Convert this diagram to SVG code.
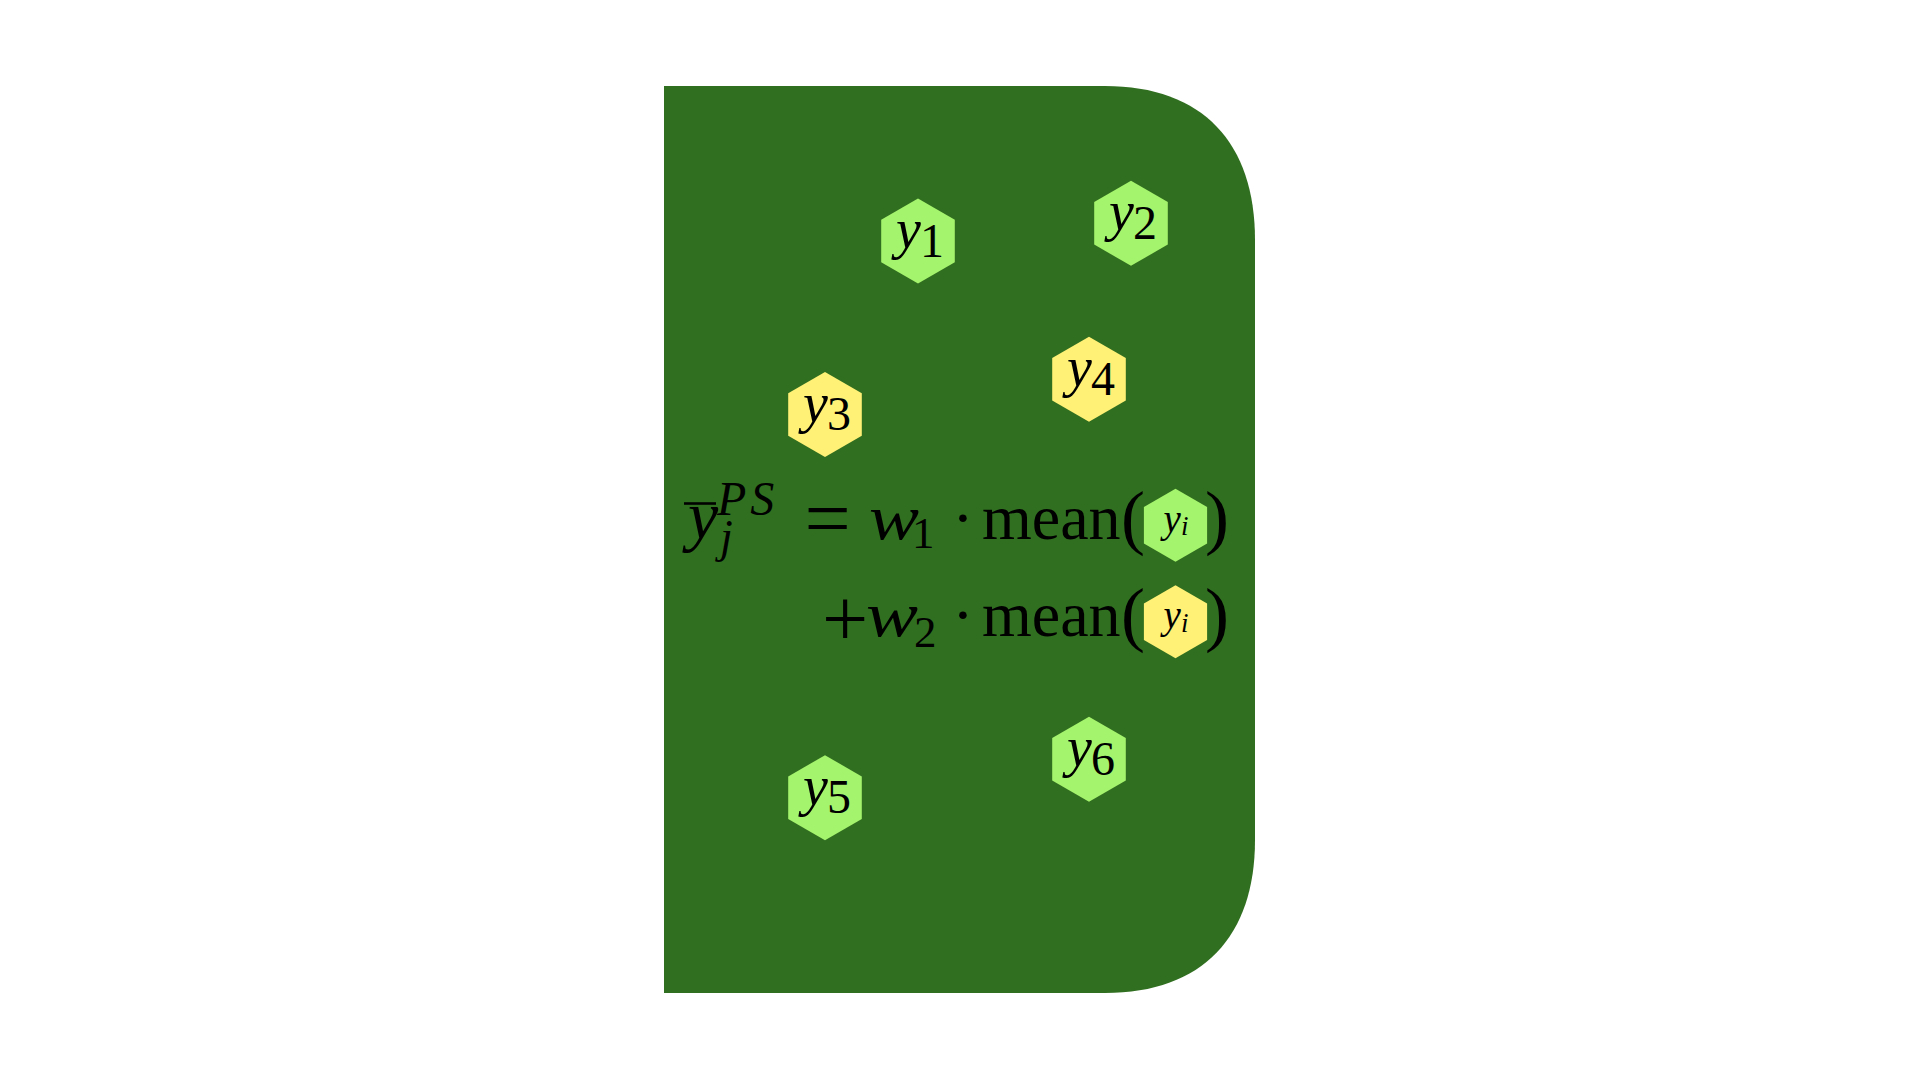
<svg xmlns="http://www.w3.org/2000/svg" xmlns:xlink="http://www.w3.org/1999/xlink" width="1920" height="1080" viewBox="0 0 1920 1080">
  <style>
    text { font-family: "Liberation Serif", "Times New Roman", serif; fill: #000000; }
    .mi { font-style: italic; }
    .green { fill: #A5F46D; }
    .yellow { fill: #FFF176; }
    .lbl { font-size: 56px; }
    .sub { font-size: 48px; font-style: normal; }
    .f64 { font-size: 64px; }
  </style>
  <defs>
    <polygon id="hex" points="0,-42.5 36.8,-21.25 36.8,21.25 0,42.5 -36.8,21.25 -36.8,-21.25"/>
    <polygon id="hexs" points="0,-36.5 31.6,-18.25 31.6,18.25 0,36.5 -31.6,18.25 -31.6,-18.25"/>
  </defs>
  <rect x="0" y="0" width="1920" height="1080" fill="#FFFFFF"/>

  <g id="stratum">
    <path d="M664,86 H1105 C1203,86 1255,143 1255,240 V840 C1255,936 1203,993 1105,993 H664 Z" fill="#316F20"/>
  </g>

  <g id="connectors"></g>

  <g id="node-y1">
    <use xlink:href="#hex" href="#hex" x="918" y="241" class="green"/>
    <text class="lbl" x="920" y="248" text-anchor="middle"><tspan class="mi">y</tspan><tspan class="sub" dx="-1" dy="8.5">1</tspan></text>
  </g>
  <g id="node-y2">
    <use xlink:href="#hex" href="#hex" x="1131" y="223.3" class="green"/>
    <text class="lbl" x="1133" y="230.3" text-anchor="middle"><tspan class="mi">y</tspan><tspan class="sub" dx="-1" dy="8.5">2</tspan></text>
  </g>
  <g id="node-y3">
    <use xlink:href="#hex" href="#hex" x="825" y="414.5" class="yellow"/>
    <text class="lbl" x="827" y="421.5" text-anchor="middle"><tspan class="mi">y</tspan><tspan class="sub" dx="-1" dy="8.5">3</tspan></text>
  </g>
  <g id="node-y4">
    <use xlink:href="#hex" href="#hex" x="1089" y="379.3" class="yellow"/>
    <text class="lbl" x="1091" y="386.3" text-anchor="middle"><tspan class="mi">y</tspan><tspan class="sub" dx="-1" dy="8.5">4</tspan></text>
  </g>
  <g id="node-y5">
    <use xlink:href="#hex" href="#hex" x="825" y="797.7" class="green"/>
    <text class="lbl" x="827" y="804.7" text-anchor="middle"><tspan class="mi">y</tspan><tspan class="sub" dx="-1" dy="8.5">5</tspan></text>
  </g>
  <g id="node-y6">
    <use xlink:href="#hex" href="#hex" x="1089" y="759.3" class="green"/>
    <text class="lbl" x="1091" y="766.3" text-anchor="middle"><tspan class="mi">y</tspan><tspan class="sub" dx="-1" dy="8.5">6</tspan></text>
  </g>

  <g id="formula">
    <!-- line 1 -->
    <line x1="684" y1="503.5" x2="716" y2="503.5" stroke="#000000" stroke-width="2.6"/>
    <text class="mi"><tspan font-size="68" x="688" y="539">y</tspan><tspan font-size="46" x="720" y="552">j</tspan><tspan font-size="48" x="717" y="515" letter-spacing="4">PS</tspan></text>
    <text font-size="82" x="827.5" y="546" text-anchor="middle">=</text>
    <text class="mi f64" x="869" y="539" textLength="50" lengthAdjust="spacingAndGlyphs">w</text>
    <text font-size="45" x="912" y="548">1</text>
    <text class="f64" x="963" y="539" text-anchor="middle">·</text>
    <text class="f64" x="982" y="539">mean</text>
    <text font-size="72" x="1121" y="540.5">(</text>
    <use xlink:href="#hexs" href="#hexs" x="1175.5" y="525.3" class="green"/>
    <text x="1176" y="531.5" text-anchor="middle"><tspan class="mi" font-size="39">y</tspan><tspan class="mi" font-size="27" dy="3.5">i</tspan></text>
    <text font-size="72" x="1205" y="540.5">)</text>

    <!-- line 2 -->
    <text font-size="82" x="845" y="646" text-anchor="middle">+</text>
    <text class="mi f64" x="866" y="636" textLength="52" lengthAdjust="spacingAndGlyphs">w</text>
    <text font-size="45" x="914" y="646.5">2</text>
    <text class="f64" x="963" y="636" text-anchor="middle">·</text>
    <text class="f64" x="982" y="636">mean</text>
    <text font-size="72" x="1121" y="637.5">(</text>
    <use xlink:href="#hexs" href="#hexs" x="1175.5" y="621.7" class="yellow"/>
    <text x="1176" y="628" text-anchor="middle"><tspan class="mi" font-size="39">y</tspan><tspan class="mi" font-size="27" dy="3.5">i</tspan></text>
    <text font-size="72" x="1205" y="637.5">)</text>
  </g>
</svg>
